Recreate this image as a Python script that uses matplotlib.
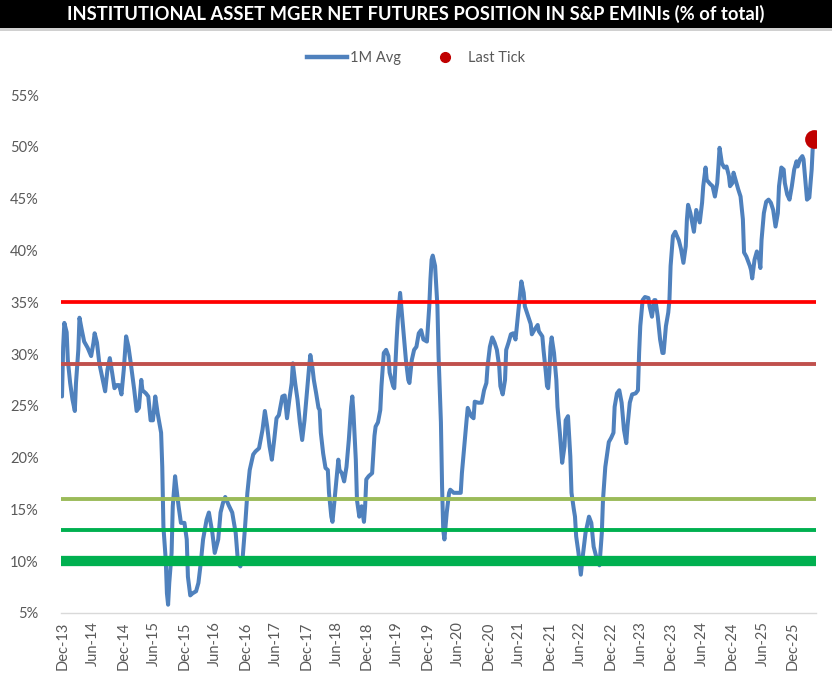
import matplotlib
matplotlib.use("Agg")
import matplotlib.pyplot as plt
from matplotlib.lines import Line2D
from matplotlib.patches import Rectangle
import numpy as np
import pandas as pd

# ---------------- data ----------------
start_date = "2013-11-26"          # first weekly observation
week_index = [
    0, 1, 2, 4, 5, 7, 9, 11, 12, 14, 15, 17, 19, 22, 25, 27, 28, 30, 32, 35,
    37, 39, 41, 43, 45, 47, 49, 51, 53, 55, 57, 59, 62, 64, 66, 68, 69, 72, 74, 76,
    78, 80, 82, 85, 86, 87, 89, 90, 91, 92, 94, 95, 97, 98, 100, 102, 105, 107, 108, 110,
    112, 115, 117, 119, 121, 124, 126, 129, 131, 134, 136, 138, 140, 143, 146, 149, 151, 153, 155, 157,
    159, 161, 164, 166, 169, 172, 174, 176, 178, 180, 182, 184, 186, 189, 191, 193, 195, 197, 198, 200,
    202, 204, 206, 208, 210, 212, 213, 215, 216, 218, 220, 221, 222, 224, 226, 228, 229, 231, 232, 234,
    236, 237, 238, 240, 242, 244, 246, 248, 249, 250, 252, 253, 255, 257, 259, 260, 261, 263, 266, 268,
    269, 271, 273, 274, 276, 278, 280, 281, 284, 285, 287, 288, 290, 291, 293, 295, 297, 298, 300, 302,
    304, 306, 308, 310, 313, 315, 316, 317, 318, 320, 322, 323, 325, 326, 327, 328, 330, 332, 333, 336,
    339, 342, 343, 345, 347, 348, 351, 353, 354, 357, 360, 362, 364, 365, 367, 369, 371, 373, 375, 376,
    378, 380, 381, 383, 385, 387, 389, 391, 393, 394, 396, 397, 400, 402, 403, 405, 408, 409, 412, 413,
    415, 416, 417, 418, 419, 420, 422, 424, 425, 427, 429, 431, 432, 434, 436, 437, 439, 440, 441, 443,
    445, 447, 449, 452, 454, 456, 459, 461, 463, 464, 466, 468, 469, 471, 473, 474, 476, 478, 480, 482,
    484, 485, 487, 489, 492, 494, 495, 496, 498, 500, 503, 504, 506, 508, 509, 511, 513, 515, 516, 518,
    520, 521, 522, 524, 526, 527, 529, 531, 533, 535, 536, 537, 539, 540, 542, 544, 547, 549, 550, 552,
    553, 556, 558, 560, 562, 563, 564, 566, 568, 570, 572, 573, 575, 576, 578, 580, 582, 584, 585, 587,
    588, 590, 591, 592, 594, 596, 598, 599, 600, 602, 604, 606, 608, 610, 612, 614, 615, 617, 619, 620,
    622, 624, 626, 628, 630, 631, 633, 635, 636, 638, 639, 641, 643, 644, 645,
]
net_position_pct = [
    25.9, 30.7, 33.0, 32.1, 29.4, 27.2, 25.6, 24.5, 27.2, 30.4, 33.5, 32.3, 31.2, 30.6, 29.8, 31.1, 32.0, 31.1, 29.1, 27.5,
    26.4, 28.5, 29.6, 28.2, 26.7, 27.0, 27.0, 26.1, 28.5, 31.7, 30.7, 29.1, 26.5, 24.5, 24.8, 27.5, 26.5, 26.2, 25.9, 23.6,
    23.6, 25.9, 24.3, 22.4, 19.1, 13.3, 10.1, 6.9, 5.8, 7.9, 10.8, 15.3, 18.2, 17.2, 15.3, 13.7, 13.7, 12.1, 8.5, 6.7,
    6.9, 7.1, 7.9, 9.8, 12.1, 14.0, 14.7, 12.7, 10.8, 12.1, 14.7, 15.6, 16.2, 15.4, 14.7, 12.7, 9.8, 9.5, 10.4, 13.3,
    16.6, 18.8, 20.3, 20.6, 20.9, 22.7, 24.5, 23.0, 21.1, 19.8, 21.7, 23.8, 24.1, 25.9, 26.0, 23.8, 25.6, 27.2, 29.1, 27.2,
    25.6, 23.4, 21.7, 23.6, 26.2, 28.8, 29.9, 28.5, 27.5, 26.2, 24.8, 24.6, 22.4, 20.4, 19.0, 18.8, 16.6, 14.3, 13.8, 16.2,
    18.5, 19.8, 18.8, 18.5, 17.7, 19.1, 21.7, 24.9, 25.9, 24.3, 19.8, 15.9, 14.3, 15.3, 13.8, 15.3, 17.9, 18.2, 18.5, 22.1,
    23.0, 23.4, 24.6, 26.9, 30.1, 30.4, 29.8, 28.2, 26.9, 26.7, 31.4, 33.3, 35.9, 34.6, 32.0, 29.4, 27.5, 27.2, 29.4, 30.4,
    30.7, 32.0, 32.3, 31.4, 31.2, 34.6, 37.2, 39.1, 39.5, 38.5, 34.6, 29.8, 23.4, 17.2, 13.0, 12.1, 14.7, 16.6, 16.9, 16.6,
    16.6, 16.6, 18.5, 21.1, 23.6, 24.8, 24.0, 23.8, 25.4, 25.3, 25.3, 26.5, 27.2, 28.8, 30.7, 31.6, 31.1, 30.4, 28.8, 26.9,
    26.1, 27.5, 30.4, 31.1, 31.9, 32.0, 31.4, 33.6, 35.9, 37.0, 35.9, 34.6, 33.6, 32.9, 31.9, 32.3, 32.8, 32.2, 31.7, 30.4,
    28.2, 26.9, 26.7, 28.2, 30.7, 31.6, 30.1, 27.5, 24.9, 22.4, 19.5, 21.1, 23.6, 24.0, 20.1, 16.6, 15.0, 14.3, 12.4, 10.8,
    8.7, 10.8, 12.7, 14.3, 13.7, 11.4, 10.1, 9.6, 12.7, 15.9, 19.1, 20.7, 21.5, 21.9, 22.4, 24.9, 26.2, 26.5, 25.3, 22.7,
    21.4, 23.0, 25.3, 26.1, 26.2, 26.5, 30.1, 32.7, 35.2, 35.5, 35.4, 34.6, 33.6, 35.2, 35.2, 33.6, 31.4, 30.1, 30.1, 32.7,
    34.0, 35.2, 38.5, 41.4, 41.8, 41.5, 41.0, 40.1, 38.8, 40.4, 43.0, 44.4, 43.6, 43.0, 41.8, 43.9, 42.7, 44.6, 46.2, 48.0,
    46.8, 46.4, 46.2, 45.2, 46.5, 48.1, 49.9, 48.4, 48.0, 48.1, 47.2, 46.2, 46.5, 47.5, 46.7, 45.9, 45.2, 43.0, 39.8, 39.4,
    39.1, 38.5, 38.1, 37.3, 39.1, 39.9, 39.1, 38.3, 41.0, 43.6, 44.7, 44.9, 44.6, 43.9, 42.3, 43.6, 46.2, 48.0, 47.8, 46.5,
    45.4, 44.9, 46.2, 47.8, 48.6, 48.1, 48.8, 49.1, 48.8, 46.2, 44.9, 45.1, 47.8, 50.1, 50.8,
]
threshold_levels = [35, 29, 16, 13, 10]
y_ticks = [5, 10, 15, 20, 25, 30, 35, 40, 45, 50, 55]
x_tick_dates = pd.date_range("2013-12-01", "2025-12-01", freq="6MS")
x_tick_labels = [d.strftime("%b-%y") for d in x_tick_dates]
series_label = "1M Avg"
last_label = "Last Tick"
title = "INSTITUTIONAL ASSET MGER NET FUTURES POSITION IN S&P EMINIs (% of total)"

# ---------------- styles ----------------
threshold_colors = ["#FF0000", "#C0504D", "#9BBB59", "#00B050", "#00B050"]
threshold_widths = [2.7, 2.8, 2.8, 2.8, 7.4]
LINE_BLUE = "#4F81BD"
DOT_RED = "#C00000"
TXT = "#595959"

plt.rcParams["font.family"] = ["Lato", "DejaVu Sans"]

W, H = 832, 683
fig = plt.figure(figsize=(W / 100, H / 100), dpi=100)
fig.patch.set_facecolor("white")

left, right, top, bottom = 61, 816, 95, 613
ax = fig.add_axes([left / W, 1 - bottom / H, (right - left) / W, (bottom - top) / H])

dates = pd.Timestamp(start_date) + pd.to_timedelta(np.array(week_index) * 7, unit="D")
ax.plot(dates, net_position_pct, color=LINE_BLUE, lw=2.9,
        solid_joinstyle="round", solid_capstyle="round", zorder=2)
for lvl, c, w in zip(threshold_levels, threshold_colors, threshold_widths):
    ax.axhline(lvl, color=c, lw=w, zorder=3)
ax.plot([dates[-1]], [net_position_pct[-1]], "o", color=DOT_RED, ms=13.5,
        markeredgewidth=0, zorder=5)

ax.set_ylim(5, 55)
ax.set_xlim(pd.Timestamp("2013-11-20"), pd.Timestamp("2026-04-19"))
ax.set_yticks(y_ticks)
ax.set_yticklabels([f"{v}%" for v in y_ticks])
ax.set_xticks(x_tick_dates)
ax.set_xticklabels(x_tick_labels, rotation=90)
ax.tick_params(axis="both", length=0, colors=TXT, labelsize=10.5)
ax.tick_params(axis="y", pad=16)
ax.tick_params(axis="x", pad=6)
for s in ["top", "right", "left"]:
    ax.spines[s].set_visible(False)
ax.spines["bottom"].set_color("#D9D9D9")
ax.spines["bottom"].set_linewidth(1.0)
ax.set_facecolor("white")

# title bar
fig.patches.append(Rectangle((0, 1 - 28 / H), 1, 28 / H, transform=fig.transFigure,
                             facecolor="black", edgecolor="none", zorder=0))
fig.patches.append(Rectangle((0, 1 - 31 / H), 1, 3 / H, transform=fig.transFigure,
                             facecolor="#D0D0D0", edgecolor="none", zorder=0))
fig.text(0.5, 1 - 14 / H, title, color="white", fontsize=13.2, fontweight="bold",
         ha="center", va="center", family=["Lato", "DejaVu Sans"])

# legend
handles = [Line2D([], [], color=LINE_BLUE, lw=3.2),
           Line2D([], [], ls="none", marker="o", color=DOT_RED, ms=7)]
fig.legend(handles, [series_label, last_label], loc="center",
           bbox_to_anchor=(416 / W, 1 - 58 / H), ncol=2, frameon=False,
           fontsize=10.5, labelcolor=TXT, handlelength=2.8, handletextpad=0.2,
           columnspacing=1.6)

fig.savefig("out.png", dpi=100, facecolor="white")
